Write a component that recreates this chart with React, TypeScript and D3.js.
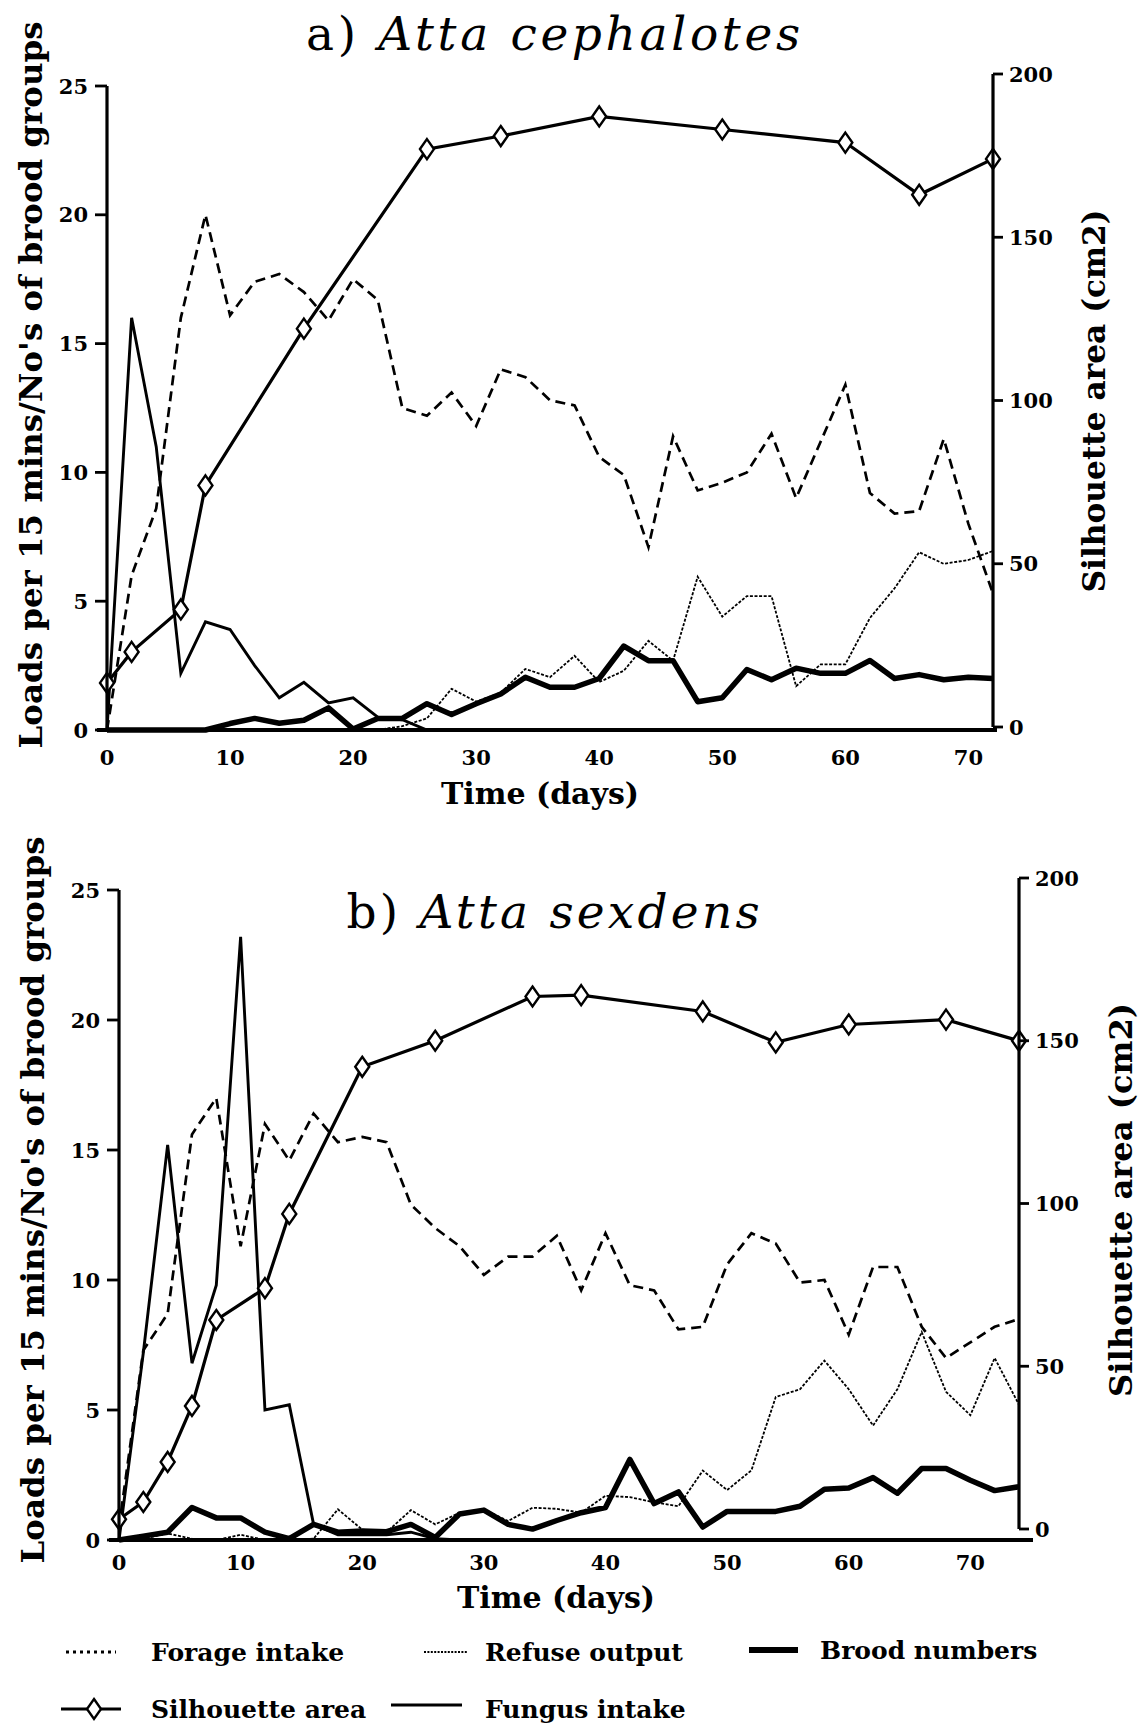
import React from "react";
import * as d3 from "d3";

// ---- Atta cephalotes (panel a) ----
const daysA = [0, 2, 4, 6, 8, 10, 12, 14, 16, 18, 20, 22, 24, 26, 28, 30, 32, 34, 36, 38, 40, 42, 44, 46, 48, 50, 52, 54, 56, 58, 60, 62, 64, 66, 68, 70, 72];
const forageA = [0, 6.0, 8.6, 16.0, 20.0, 16.1, 17.4, 17.7, 17.0, 15.9, 17.5, 16.7, 12.5, 12.2, 13.1, 11.8, 14.0, 13.7, 12.8, 12.6, 10.6, 9.9, 7.1, 11.4, 9.3, 9.6, 10.0, 11.5, 9.0, 11.2, 13.4, 9.2, 8.4, 8.5, 11.3, 8.0, 5.3];
const refuseA = [0, 0, 0, 0, 0, 0, 0, 0, 0, 0, 0, 0, 0.15, 0.45, 1.6, 1.1, 1.45, 2.37, 2.05, 2.88, 1.86, 2.3, 3.46, 2.69, 5.95, 4.4, 5.2, 5.2, 1.7, 2.55, 2.55, 4.35, 5.5, 6.9, 6.45, 6.6, 6.95];
const broodA = [0, 0, 0, 0, 0, 0.25, 0.45, 0.26, 0.38, 0.86, 0.04, 0.45, 0.45, 1.02, 0.6, 1.02, 1.4, 2.05, 1.66, 1.66, 2.0, 3.26, 2.69, 2.69, 1.1, 1.25, 2.35, 1.95, 2.4, 2.2, 2.2, 2.7, 2.0, 2.15, 1.95, 2.05, 2.0];
const fungusA = [0, 16, 11, 2.2, 4.2, 3.9, 2.5, 1.25, 1.85, 1.05, 1.25, 0.5, 0.4, 0, 0, 0, 0, 0, 0, 0, 0, 0, 0, 0, 0, 0, 0, 0, 0, 0, 0, 0, 0, 0, 0, 0, 0];
const silDaysA = [0, 2, 6, 8, 16, 26, 32, 40, 50, 60, 66, 72];
const silhouetteA = [13.5, 23, 36, 74, 122, 177, 181, 187, 183, 179, 163, 174];

// ---- Atta sexdens (panel b) ----
const daysB = [0, 2, 4, 6, 8, 10, 12, 14, 16, 18, 20, 22, 24, 26, 28, 30, 32, 34, 36, 38, 40, 42, 44, 46, 48, 50, 52, 54, 56, 58, 60, 62, 64, 66, 68, 70, 72, 74];
const forageB = [0.5, 7.3, 8.7, 15.6, 17.0, 11.3, 16.0, 14.6, 16.4, 15.3, 15.5, 15.3, 12.9, 12.0, 11.3, 10.2, 10.9, 10.9, 11.7, 9.6, 11.8, 9.8, 9.6, 8.1, 8.2, 10.6, 11.8, 11.4, 9.9, 10.0, 7.9, 10.5, 10.5, 8.2, 7.0, 7.6, 8.2, 8.5];
const refuseB = [0, 0.05, 0.25, 0.05, 0, 0.2, 0, 0, 0.05, 1.18, 0.4, 0.3, 1.15, 0.6, 1.05, 1.18, 0.73, 1.24, 1.2, 1.05, 1.7, 1.65, 1.45, 1.3, 2.67, 1.92, 2.68, 5.5, 5.8, 6.9, 5.8, 4.4, 5.8, 8.0, 5.7, 4.8, 7.0, 5.2];
const broodB = [0, 0.15, 0.3, 1.25, 0.85, 0.85, 0.3, 0.05, 0.6, 0.3, 0.35, 0.32, 0.6, 0.1, 1.0, 1.15, 0.6, 0.42, 0.75, 1.05, 1.25, 3.1, 1.4, 1.85, 0.5, 1.1, 1.1, 1.1, 1.3, 1.95, 2.0, 2.4, 1.8, 2.75, 2.75, 2.3, 1.9, 2.05];
const fungusB = [0, 7.2, 15.2, 6.8, 9.8, 23.2, 5.0, 5.2, 0.6, 0.2, 0.2, 0.2, 0.3, 0.05, 0, 0, 0, 0, 0, 0, 0, 0, 0, 0, 0, 0, 0, 0, 0, 0, 0, 0, 0, 0, 0, 0, 0, 0];
const silDaysB = [0, 2, 4, 6, 8, 12, 14, 20, 26, 34, 38, 48, 54, 60, 68, 74];
const silhouetteB = [3, 8.3, 20.6, 37.8, 64.2, 74, 96.8, 142, 150, 163.6, 164, 159, 149.5, 155, 156.5, 150];

const leftTicks = [0, 5, 10, 15, 20, 25];
const rightTicks = [0, 50, 100, 150, 200];
const timeTicks = [0, 10, 20, 30, 40, 50, 60, 70];

const LEFT_LABEL = "Loads per 15 mins/No's of brood groups";
const RIGHT_LABEL = "Silhouette area (cm2)";
const TIME_LABEL = "Time (days)";

const SERIF = "'DejaVu Serif', 'Liberation Serif', serif";
const TICK_SIZE = 21;

const styles = {
  forage: { width: 2.7, dash: "10 6" },
  refuse: { width: 1.8, dash: "3 1.6" },
  brood: { width: 5.5 },
  fungus: { width: 2.9 },
  silhouette: { width: 3.2 },
};

function diamond(x: number, y: number) {
  return `M${x},${y - 10}L${x + 7},${y}L${x},${y + 10}L${x - 7},${y}Z`;
}

type PanelProps = {
  letter: string;
  species: string;
  titleY: number;
  titleLen: number;
  days: number[];
  forage: number[];
  refuse: number[];
  brood: number[];
  fungus: number[];
  silDays: number[];
  silhouette: number[];
  xDomainMax: number;
  xRange: [number, number];
  yRange: [number, number];
  yRRange: [number, number];
  leftLabelX: number;
  leftLabelLen: number;
  leftLabelCY: number;
  rightLabelX: number;
  rightLabelCY: number;
  rightLabelLen: number;
  tickLabelY: number;
  timeX: number;
  timeY: number;
  axisExtend: number;
};

function Panel(p: PanelProps) {
  const x = d3.scaleLinear().domain([0, p.xDomainMax]).range(p.xRange);
  const y = d3.scaleLinear().domain([0, 25]).range(p.yRange);
  const yR = d3.scaleLinear().domain([0, 200]).range(p.yRRange);

  const line = d3
    .line<[number, number]>()
    .x((d) => x(d[0]))
    .y((d) => y(d[1]));
  const lineR = d3
    .line<[number, number]>()
    .x((d) => x(d[0]))
    .y((d) => yR(d[1]));

  const pairs = (vals: number[]) => p.days.map((d, i) => [d, vals[i]] as [number, number]);
  const silPairs = p.silDays.map((d, i) => [d, p.silhouette[i]] as [number, number]);

  const x0 = x(0);
  const xR = x(p.xDomainMax);

  return (
    <g>
      {/* title */}
      <text
        x={553}
        y={p.titleY}
        textAnchor="middle"
        fontFamily={SERIF}
        fontSize={47}
        textLength={p.titleLen}
        lengthAdjust="spacing"
      >
        <tspan>{p.letter} </tspan>
        <tspan fontStyle="italic">{p.species}</tspan>
      </text>

      {/* data series */}
      <path d={line(pairs(p.fungus)) || ""} fill="none" stroke="#000" strokeWidth={styles.fungus.width} />
      <path d={line(pairs(p.refuse)) || ""} fill="none" stroke="#000" strokeWidth={styles.refuse.width} strokeDasharray={styles.refuse.dash} />
      <path d={line(pairs(p.forage)) || ""} fill="none" stroke="#000" strokeWidth={styles.forage.width} strokeDasharray={styles.forage.dash} />
      <path d={line(pairs(p.brood)) || ""} fill="none" stroke="#000" strokeWidth={styles.brood.width} strokeLinejoin="round" />
      <path d={lineR(silPairs) || ""} fill="none" stroke="#000" strokeWidth={styles.silhouette.width} />
      {silPairs.map((d, i) => (
        <path key={i} d={diamond(x(d[0]), yR(d[1]))} fill="#fff" stroke="#000" strokeWidth={2.4} />
      ))}

      {/* left axis */}
      <line x1={x0} x2={x0} y1={y(0)} y2={y(25)} stroke="#000" strokeWidth={3.2} />
      {leftTicks.map((t) => (
        <g key={t}>
          <line x1={x0 - 12} x2={x0} y1={y(t)} y2={y(t)} stroke="#000" strokeWidth={2.8} />
          <text
            x={x0 - 19}
            y={y(t)}
            dy="0.36em"
            textAnchor="end"
            fontFamily={SERIF}
            fontWeight="bold"
            fontSize={TICK_SIZE}
          >
            {t}
          </text>
        </g>
      ))}

      {/* right axis */}
      <line x1={xR} x2={xR} y1={yR(0)} y2={yR(200)} stroke="#000" strokeWidth={3.2} />
      {rightTicks.map((t) => (
        <g key={t}>
          <line x1={xR} x2={xR + 10} y1={yR(t)} y2={yR(t)} stroke="#000" strokeWidth={2.8} />
          <text
            x={xR + 16}
            y={yR(t)}
            dy="0.36em"
            textAnchor="start"
            fontFamily={SERIF}
            fontWeight="bold"
            fontSize={TICK_SIZE}
          >
            {t}
          </text>
        </g>
      ))}

      {/* time axis */}
      <line x1={x0 - 10} x2={xR + p.axisExtend} y1={y(0)} y2={y(0)} stroke="#000" strokeWidth={4.2} />
      {timeTicks.map((t) => (
        <text
          key={t}
          x={x(t)}
          y={p.tickLabelY}
          dy="0.36em"
          textAnchor="middle"
          fontFamily={SERIF}
          fontWeight="bold"
          fontSize={TICK_SIZE}
        >
          {t}
        </text>
      ))}

      {/* axis titles */}
      <text
        x={p.timeX}
        y={p.timeY}
        dy="0.36em"
        textAnchor="middle"
        fontFamily={SERIF}
        fontWeight="bold"
        fontSize={30}
      >
        {TIME_LABEL}
      </text>
      <text
        transform={`translate(${p.leftLabelX},${p.leftLabelCY}) rotate(-90)`}
        dy="0.36em"
        textAnchor="middle"
        fontFamily={SERIF}
        fontWeight="bold"
        fontSize={31}
        textLength={p.leftLabelLen}
        lengthAdjust="spacingAndGlyphs"
      >
        {LEFT_LABEL}
      </text>
      <text
        transform={`translate(${p.rightLabelX},${p.rightLabelCY}) rotate(-90)`}
        dy="0.36em"
        textAnchor="middle"
        fontFamily={SERIF}
        fontWeight="bold"
        fontSize={31}
        textLength={p.rightLabelLen}
        lengthAdjust="spacingAndGlyphs"
      >
        {RIGHT_LABEL}
      </text>
    </g>
  );
}

function Legend() {
  const row1 = 1652;
  const row2 = 1709;
  const txt = (x: number, y: number, s: string) => (
    <text x={x} y={y} dy="0.36em" fontFamily={SERIF} fontWeight="bold" fontSize={25}>
      {s}
    </text>
  );
  return (
    <g>
      <line x1={66} x2={116} y1={row1} y2={row1} stroke="#000" strokeWidth={2.8} strokeDasharray="3 4" />
      {txt(151, row1, "Forage intake")}
      <line x1={424} x2={468} y1={row1} y2={row1} stroke="#000" strokeWidth={2} strokeDasharray="2 1.4" />
      {txt(485, row1, "Refuse output")}
      <line x1={749} x2={798} y1={row1 - 2} y2={row1 - 2} stroke="#000" strokeWidth={6} />
      {txt(820, row1 - 2, "Brood numbers")}

      <line x1={61} x2={121} y1={row2} y2={row2} stroke="#000" strokeWidth={3.2} />
      <path d={diamond(94, row2)} fill="#fff" stroke="#000" strokeWidth={2.4} />
      {txt(151, row2, "Silhouette area")}
      <line x1={391} x2={462} y1={row2 - 4} y2={row2 - 4} stroke="#000" strokeWidth={2.9} />
      {txt(485, row2, "Fungus intake")}
    </g>
  );
}

export default function App() {
  return (
    <svg width={1142} height={1726} viewBox="0 0 1142 1726" style={{ display: "block", position: "absolute", left: 0, top: 0, background: "#fff" }}>
      <rect width={1142} height={1726} fill="#fff" />
      <Panel
        letter="a)"
        species="Atta cephalotes"
        titleY={50}
        titleLen={494}
        days={daysA}
        forage={forageA}
        refuse={refuseA}
        brood={broodA}
        fungus={fungusA}
        silDays={silDaysA}
        silhouette={silhouetteA}
        xDomainMax={72}
        xRange={[107, 993]}
        yRange={[730, 86]}
        yRRange={[727, 74]}
        leftLabelX={31}
        leftLabelLen={727}
        leftLabelCY={385}
        rightLabelX={1094}
        rightLabelCY={401}
        rightLabelLen={383}
        tickLabelY={757}
        timeX={540}
        timeY={793}
        axisExtend={4}
      />
      <Panel
        letter="b)"
        species="Atta sexdens"
        titleY={928}
        titleLen={413}
        days={daysB}
        forage={forageB}
        refuse={refuseB}
        brood={broodB}
        fungus={fungusB}
        silDays={silDaysB}
        silhouette={silhouetteB}
        xDomainMax={74}
        xRange={[119, 1019]}
        yRange={[1540, 890]}
        yRRange={[1529, 878]}
        leftLabelX={33}
        leftLabelLen={727}
        leftLabelCY={1200}
        rightLabelX={1121}
        rightLabelCY={1200}
        rightLabelLen={394}
        tickLabelY={1562}
        timeX={556}
        timeY={1597}
        axisExtend={14}
      />
      <Legend />
    </svg>
  );
}
